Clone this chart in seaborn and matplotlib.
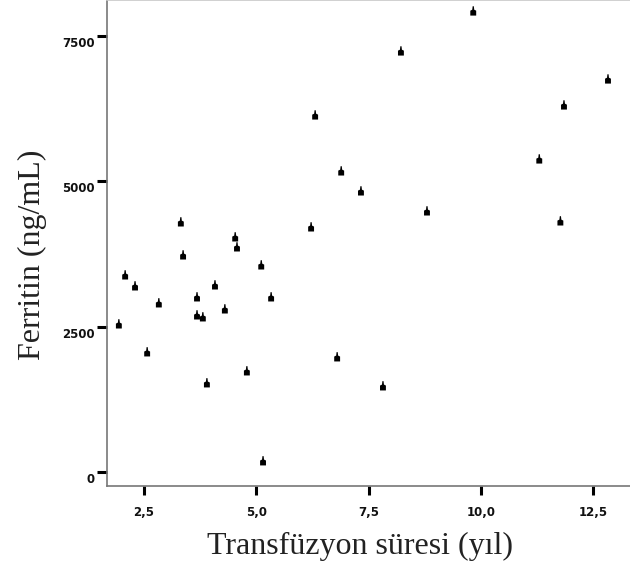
import matplotlib
matplotlib.use("Agg")
import matplotlib.pyplot as plt
import matplotlib.transforms as mtransforms
import seaborn as sns
import pandas as pd
from matplotlib.path import Path

# transfusion duration (years) vs ferritin (ng/mL)
sure = [1.94, 2.08, 2.30, 2.57, 2.83, 3.32, 3.37, 3.68, 3.68, 3.81, 3.90,
        4.08, 4.30, 4.53, 4.57, 4.79, 5.11, 5.15, 5.33, 6.22, 6.31, 6.80,
        6.89, 7.33, 7.82, 8.22, 8.80, 9.83, 11.30, 11.77, 11.85, 12.83]
ferritin = [2528, 3371, 3182, 2047, 2890, 4283, 3715, 2993, 2683, 2649, 1514,
            3199, 2786, 4025, 3853, 1720, 3543, 172, 2993, 4197, 6123, 1961,
            5160, 4816, 1462, 7224, 4472, 7912, 5366, 4300, 6295, 6742]

x_ticks = [2.5, 5.0, 7.5, 10.0, 12.5]
x_labels = ["2,5", "5,0", "7,5", "10,0", "12,5"]
y_ticks = [0, 2500, 5000, 7500]
y_labels = ["0", "2500", "5000", "7500"]

df = pd.DataFrame({"sure": sure, "ferritin": ferritin})

sns.set_style("white")

# little square with a tip on top, like the SPSS marker
marker = Path([(-3, -3.5), (3, -3.5), (3, 1.5), (1, 2.5), (0.6, 6),
               (-0.6, 6), (-1, 2.5), (-3, 1.5), (-3, -3.5)])

fig = plt.figure(figsize=(6.3, 5.75), dpi=100)
ax = fig.add_axes([107 / 630, 1 - 486 / 575, 1 - 107 / 630, 486 / 575])

sns.scatterplot(data=df, x="sure", y="ferritin", ax=ax, marker=marker,
                s=72, color="black", edgecolor="none", linewidth=0)

ax.set_xlim(1.676, 13.32)
ax.set_ylim(-241, 8121)

ax.set_xticks(x_ticks)
ax.set_xticklabels(x_labels)
ax.set_yticks(y_ticks)
ax.set_yticklabels(y_labels)

for side in ["left", "bottom"]:
    ax.spines[side].set_color("#777777")
    ax.spines[side].set_linewidth(1.2)
ax.spines["top"].set_color("#c8c8c8")
ax.spines["top"].set_linewidth(1.2)
ax.spines["right"].set_visible(False)

ax.tick_params(axis="y", left=True, direction="out", length=7.5, width=2.2,
               color="black", pad=1.5, labelsize=8.5)
ax.tick_params(axis="x", bottom=True, direction="out", length=6.5, width=2.2,
               color="black", pad=8, labelsize=8.5)
for lab in ax.get_xticklabels() + ax.get_yticklabels():
    lab.set_fontfamily("DejaVu Sans")
    lab.set_fontweight("bold")
    lab.set_color("#111111")

# the y tick labels sit a bit below their ticks in the original
shift = mtransforms.ScaledTranslation(0, -0.06, fig.dpi_scale_trans)
for lab in ax.get_yticklabels():
    lab.set_transform(lab.get_transform() + shift)

ax.set_xlabel("Transfüzyon süresi (yıl)", family="Liberation Serif",
              fontsize=23, color="#222222")
ax.set_ylabel("Ferritin (ng/mL)", family="Liberation Serif",
              fontsize=23, color="#222222")
ax.xaxis.set_label_coords(0.484, -0.095)
ax.yaxis.set_label_coords(-0.115, 0.475)

plt.savefig("out.png", dpi=100)
